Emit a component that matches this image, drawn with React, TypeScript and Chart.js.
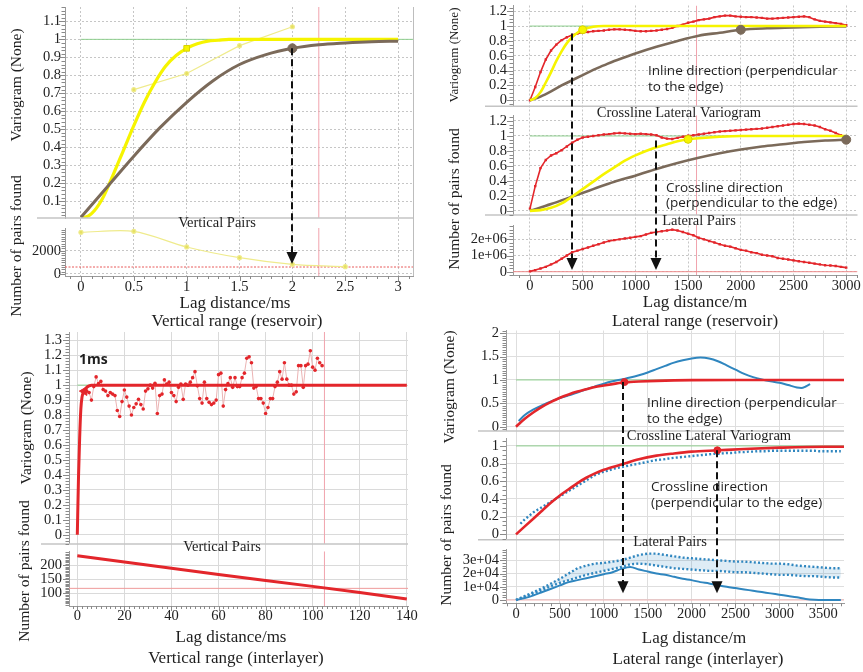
import React, { useEffect, useRef } from 'react';
import { Chart, registerables } from 'chart.js';

Chart.register(...registerables);

const SERIF = '"Liberation Serif", "Times New Roman", serif';
const SANS = '"Open Sans", "Noto Sans", sans-serif';

// ---------------- colours ----------------
const YEL = '#f6f400';
const YEL_THIN = '#efeb8c';
const BRN = '#7b6a5a';
const RED = '#e3262b';
const RED_LIGHT = '#ebb3b3';
const BLUE = '#2f86bf';
const GREEN = '#8fcf8f';
const PINK = '#f1a3ad';

// ---------------- Panel 1: vertical range (reservoir) ----------------
const P1_MODEL_YELLOW_X = [0, 0.1, 0.2, 0.3, 0.4, 0.5, 0.6, 0.7, 0.8, 0.9, 1.0, 1.1, 1.2, 1.3, 1.4, 1.6, 2.0, 2.5, 3.0];
const P1_MODEL_YELLOW_Y = [0, 0.03, 0.11, 0.24, 0.38, 0.52, 0.65, 0.76, 0.85, 0.91, 0.95, 0.975, 0.99, 0.995, 1, 1, 1, 1, 1];
const P1_MODEL_BROWN_X = [0, 0.25, 0.5, 0.75, 1, 1.25, 1.5, 1.75, 2, 2.25, 2.5, 2.75, 3];
const P1_MODEL_BROWN_Y = [0.01, 0.18, 0.35, 0.51, 0.65, 0.77, 0.86, 0.915, 0.95, 0.97, 0.98, 0.987, 0.99];
const P1_EXP_X = [0.5, 1, 1.5, 2];
const P1_EXP_Y = [0.72, 0.81, 0.965, 1.07];
const P1_PAIRS_X = [0, 0.5, 1, 1.5, 2, 2.5];
const P1_PAIRS_Y = [3580, 3660, 2320, 1400, 830, 630];
const P1_RANGE_YELLOW = { x: 1, y: 0.95 };
const P1_RANGE_BROWN = { x: 2, y: 0.95 };
const P1_SILL = 1;
const P1_PINK_X = 2.25;
const P1_PAIRS_REF = 600;
const P1_ARROW = { x: 2, from: 0.95, to: 850 };

// ---------------- Panel 2: lateral range (reservoir) ----------------
const P2_LAGS = [0, 50, 100, 150, 200, 250, 300, 350, 400, 450, 500, 550, 600, 650, 700, 750, 800, 850, 900, 950, 1000,
  1050, 1100, 1150, 1200, 1250, 1300, 1350, 1400, 1450, 1500, 1550, 1600, 1650, 1700, 1750, 1800, 1850, 1900, 1950, 2000,
  2050, 2100, 2150, 2200, 2250, 2300, 2350, 2400, 2450, 2500, 2550, 2600, 2650, 2700, 2750, 2800, 2850, 2900, 2950, 3000];
const P2_INLINE_EXP = [0, 0.18, 0.38, 0.55, 0.67, 0.75, 0.81, 0.85, 0.88, 0.9, 0.91, 0.92, 0.93, 0.935, 0.94, 0.95, 0.955,
  0.955, 0.95, 0.945, 0.935, 0.93, 0.93, 0.935, 0.94, 0.95, 0.96, 0.975, 1.0, 1.02, 1.045, 1.06, 1.08, 1.09, 1.1, 1.12,
  1.13, 1.14, 1.14, 1.13, 1.125, 1.12, 1.12, 1.115, 1.11, 1.1, 1.1, 1.105, 1.11, 1.115, 1.12, 1.125, 1.13, 1.12, 1.09,
  1.07, 1.06, 1.05, 1.04, 1.03, 1.01];
const P2_CROSS_EXP = [0.03, 0.33, 0.57, 0.68, 0.74, 0.77, 0.81, 0.86, 0.91, 0.95, 0.98, 0.99, 1.0, 1.01, 1.02, 1.025,
  1.035, 1.04, 1.035, 1.03, 1.025, 1.03, 1.025, 1.02, 1.01, 0.98, 0.965, 0.96, 0.975, 0.99, 1.005, 1.01, 1.02, 1.03, 1.04,
  1.05, 1.06, 1.065, 1.07, 1.075, 1.08, 1.085, 1.09, 1.095, 1.1, 1.11, 1.12, 1.13, 1.14, 1.15, 1.16, 1.165, 1.16, 1.15,
  1.14, 1.12, 1.09, 1.07, 1.04, 1.01, 0.98];
// lateral pairs, in millions (axis labels 1e+06)
const P2_PAIRS_M = [0.02, 0.1, 0.2, 0.3, 0.45, 0.6, 0.8, 1.0, 1.2, 1.3, 1.4, 1.5, 1.6, 1.7, 1.8, 1.9, 1.95, 2.0, 2.05,
  2.1, 2.15, 2.2, 2.3, 2.4, 2.45, 2.5, 2.55, 2.6, 2.55, 2.45, 2.35, 2.25, 2.1, 2.0, 1.9, 1.8, 1.7, 1.6, 1.55, 1.45, 1.35,
  1.3, 1.2, 1.15, 1.05, 1.0, 0.95, 0.85, 0.8, 0.75, 0.7, 0.65, 0.6, 0.55, 0.5, 0.45, 0.4, 0.38, 0.35, 0.3, 0.25];
const P2_INLINE_YELLOW_X = [0, 50, 100, 150, 200, 250, 300, 350, 400, 450, 500, 600, 700, 3000];
const P2_INLINE_YELLOW_Y = [0, 0.03, 0.11, 0.24, 0.38, 0.53, 0.66, 0.77, 0.85, 0.91, 0.95, 0.99, 1, 1];
const P2_INLINE_BROWN_X = [0, 100, 200, 300, 400, 500, 600, 700, 800, 900, 1000, 1200, 1400, 1600, 1800, 2000, 2250, 2500, 2750, 3000];
const P2_INLINE_BROWN_Y = [0, 0.05, 0.12, 0.2, 0.27, 0.34, 0.41, 0.47, 0.53, 0.58, 0.63, 0.72, 0.8, 0.87, 0.91, 0.95, 0.97, 0.98, 0.99, 0.995];
const P2_CROSS_YELLOW_X = [0, 100, 200, 300, 400, 500, 600, 700, 800, 900, 1000, 1100, 1200, 1300, 1400, 1500, 1600, 1800, 2000, 3000];
const P2_CROSS_YELLOW_Y = [0, 0.01, 0.04, 0.1, 0.19, 0.29, 0.39, 0.49, 0.58, 0.67, 0.74, 0.8, 0.85, 0.89, 0.93, 0.955, 0.97, 0.99, 1, 1];
const P2_CROSS_BROWN_X = [0, 200, 400, 600, 800, 1000, 1200, 1400, 1600, 1800, 2000, 2200, 2400, 2600, 2800, 3000];
const P2_CROSS_BROWN_Y = [0, 0.09, 0.19, 0.29, 0.39, 0.47, 0.56, 0.64, 0.71, 0.77, 0.82, 0.86, 0.89, 0.92, 0.94, 0.95];
const P2_MARKS = { inYel: { x: 500, y: 0.95 }, inBrn: { x: 2000, y: 0.95 }, crYel: { x: 1500, y: 0.955 }, crBrn: { x: 3000, y: 0.95 } };
const P2_SILL = 1;
const P2_PINK_X = 1580;
const P2_ARROWS = [{ x: 400, fromAxis: 'y0', from: 0.9, to: 0.1 }, { x: 1200, fromAxis: 'y1', from: 0.94, to: 0.1 }];

// ---------------- Panel 3: vertical range (interlayer) ----------------
const P3_MODEL_X = [0, 0.5, 1, 1.5, 2, 2.5, 3, 4, 5, 6, 140];
const P3_MODEL_Y = [0, 0.38, 0.65, 0.84, 0.92, 0.95, 0.965, 0.985, 0.995, 1, 1];
const P3_EXP_LAGS = [3, 4, 5, 6, 7, 8, 9, 10, 11, 12, 13, 14, 15, 16, 17, 18, 19, 20, 21, 22, 23, 24, 25, 26, 27, 28, 29,
  30, 31, 32, 33, 34, 35, 36, 37, 38, 39, 40, 41, 42, 43, 44, 45, 46, 47, 48, 49, 50, 51, 52, 53, 54, 55, 56, 57, 58, 59,
  60, 61, 62, 63, 64, 65, 66, 67, 68, 69, 70, 71, 72, 73, 74, 75, 76, 77, 78, 79, 80, 81, 82, 83, 84, 85, 86, 87, 88, 89,
  90, 91, 92, 93, 94, 95, 96, 97, 98, 99, 100, 101, 102, 103, 104];
const P3_EXP = [0.96, 0.96, 0.95, 0.9, 0.99, 1.055, 1.01, 1.025, 0.97, 0.96, 0.93, 0.95, 0.94, 0.93, 0.83, 0.79, 0.89,
  0.967, 0.92, 0.86, 0.8, 0.85, 0.875, 0.905, 0.87, 0.84, 0.96, 0.975, 1.0, 0.98, 1.013, 0.81, 0.93, 0.94, 1.035, 1.007,
  1.02, 0.95, 0.93, 0.89, 0.985, 1.007, 0.905, 1.007, 1.0, 1.02, 1.05, 1.09, 0.995, 0.91, 0.88, 1.02, 0.91, 0.885, 0.87,
  0.88, 0.9, 1.07, 1.08, 0.86, 0.97, 1.01, 1.05, 0.985, 1.05, 0.99, 0.99, 1.05, 1.08, 1.18, 1.19, 1.15, 0.98, 0.99, 0.91,
  0.91, 0.88, 0.81, 0.85, 0.91, 0.91, 0.99, 1.02, 1.09, 1.04, 1.15, 1.04, 1.0, 1.0, 0.94, 0.955, 1.13, 1.13, 0.985, 1.13,
  1.14, 1.23, 1.12, 1.1, 1.18, 1.15, 1.13];
const P3_PAIRS_X = [0, 20, 40, 60, 80, 100, 120, 140];
const P3_PAIRS_Y = [233, 211, 189, 167, 146, 125, 103, 80];
const P3_MARK = { x: 3, y: 0.96 };
const P3_SILL = 1;
const P3_PINK_X = 105;
const P3_PAIRS_REF = 118;

// ---------------- Panel 4: lateral range (interlayer) ----------------
const P4_INLINE_EXP_X = [30, 100, 200, 300, 400, 500, 600, 700, 800, 900, 1000, 1100, 1200, 1300, 1400, 1500, 1600, 1700,
  1800, 1900, 2000, 2100, 2200, 2300, 2400, 2500, 2600, 2700, 2800, 2900, 3000, 3100, 3200, 3250, 3300, 3350];
const P4_INLINE_EXP_Y = [0.12, 0.25, 0.37, 0.46, 0.54, 0.61, 0.67, 0.73, 0.8, 0.86, 0.92, 0.97, 1.01, 1.05, 1.1, 1.16,
  1.23, 1.3, 1.37, 1.42, 1.46, 1.48, 1.46, 1.4, 1.31, 1.22, 1.13, 1.06, 1.01, 0.97, 0.94, 0.89, 0.84, 0.83, 0.86, 0.91];
const P4_INLINE_MODEL_X = [0, 100, 200, 300, 400, 500, 600, 700, 800, 900, 1000, 1100, 1200, 1300, 1400, 1600, 1800, 2000, 2500, 3750];
const P4_INLINE_MODEL_Y = [0, 0.17, 0.31, 0.43, 0.53, 0.62, 0.69, 0.75, 0.8, 0.85, 0.88, 0.91, 0.94, 0.955, 0.965, 0.98, 0.99, 0.995, 1, 1];
const P4_CROSS_MODEL_X = [0, 100, 200, 300, 400, 500, 600, 700, 800, 900, 1000, 1200, 1400, 1600, 1800, 2000, 2300, 2600, 3000, 3500, 3750];
const P4_CROSS_MODEL_Y = [0, 0.09, 0.18, 0.27, 0.36, 0.44, 0.51, 0.58, 0.64, 0.69, 0.73, 0.79, 0.85, 0.89, 0.915, 0.935, 0.95, 0.965, 0.98, 0.99, 0.99];
const P4_CROSS_EXP_X = [50, 100, 150, 200, 250, 300, 350, 400, 450, 500, 550, 600, 650, 700, 750, 800, 850, 900, 950,
  1000, 1050, 1100, 1150, 1200, 1250, 1300, 1350, 1400, 1450, 1500, 1550, 1600, 1650, 1700, 1750, 1800, 1850, 1900, 1950,
  2000, 2050, 2100, 2150, 2200, 2250, 2300, 2350, 2400, 2450, 2500, 2550, 2600, 2650, 2700, 2750, 2800, 2850, 2900, 2950,
  3000, 3050, 3100, 3150, 3200, 3250, 3300, 3350, 3400, 3450, 3500, 3550, 3600, 3650, 3700];
const P4_CROSS_EXP_Y = [0.12, 0.17, 0.21, 0.25, 0.28, 0.31, 0.34, 0.37, 0.4, 0.43, 0.46, 0.49, 0.52, 0.55, 0.58, 0.61,
  0.64, 0.67, 0.69, 0.71, 0.72, 0.74, 0.75, 0.76, 0.77, 0.78, 0.79, 0.8, 0.81, 0.82, 0.83, 0.84, 0.845, 0.85, 0.86, 0.865,
  0.87, 0.875, 0.88, 0.885, 0.89, 0.895, 0.9, 0.905, 0.91, 0.91, 0.915, 0.92, 0.92, 0.925, 0.93, 0.93, 0.935, 0.935, 0.94,
  0.94, 0.94, 0.945, 0.945, 0.945, 0.945, 0.945, 0.945, 0.945, 0.945, 0.945, 0.945, 0.945, 0.94, 0.94, 0.94, 0.94, 0.94, 0.94];
const P4_PAIRS_X = [0, 100, 200, 300, 400, 500, 600, 700, 800, 900, 1000, 1100, 1200, 1300, 1400, 1500, 1600, 1700, 1800,
  1900, 2000, 2100, 2200, 2300, 2400, 2500, 2600, 2700, 2800, 2900, 3000, 3100, 3200, 3300, 3400, 3500, 3600, 3700];
// pairs in units of 1e4 (axis labels 1e+04)
const P4_PAIRS_SOLID = [0, 0.15, 0.35, 0.6, 0.85, 1.1, 1.35, 1.5, 1.65, 1.8, 1.95, 2.1, 2.35, 2.5, 2.3, 2.15, 2.0, 1.9,
  1.75, 1.6, 1.5, 1.35, 1.25, 1.12, 1.0, 0.9, 0.8, 0.7, 0.6, 0.5, 0.4, 0.3, 0.2, 0.08, 0.02, 0, 0, 0];
const P4_PAIRS_UPPER = [0, 0.3, 0.6, 0.9, 1.25, 1.6, 2.0, 2.4, 2.6, 2.75, 2.8, 2.9, 3.0, 3.2, 3.4, 3.5, 3.5, 3.4, 3.3,
  3.2, 3.15, 3.1, 3.05, 3.0, 2.95, 2.9, 2.9, 2.85, 2.8, 2.75, 2.75, 2.7, 2.6, 2.55, 2.5, 2.45, 2.4, 2.4];
const P4_PAIRS_LOWER = [0, 0.25, 0.5, 0.75, 1.05, 1.3, 1.5, 1.7, 1.9, 2.05, 2.2, 2.35, 2.5, 2.7, 2.75, 2.7, 2.6, 2.5, 2.4,
  2.35, 2.3, 2.25, 2.2, 2.2, 2.15, 2.1, 2.1, 2.05, 2.0, 1.95, 1.9, 1.9, 1.85, 1.8, 1.8, 1.75, 1.7, 1.7];
const P4_MARKS = { inline: { x: 1235, y: 0.955 }, cross: { x: 2293, y: 0.95 } };
const P4_SILL = 1;
const P4_ARROWS = [{ x: 1220, fromAxis: 'y0', from: 0.955, to: 0.5 }, { x: 2293, fromAxis: 'y1', from: 0.95, to: 0.5 }];

// ---------------- helpers ----------------
type Pt = { x: number; y: number };
const pts = (xs: number[], ys: number[]): Pt[] => xs.map((x, i) => ({ x, y: ys[i] }));

function curve(data: Pt[], axis: string, color: string, width: number, opts: any = {}) {
  return {
    data, yAxisID: axis, xAxisID: 'x', showLine: true, borderColor: color, backgroundColor: color,
    borderWidth: width, pointRadius: 0, pointHoverRadius: 0, tension: 0, fill: false, ...opts,
  };
}
function marker(p: Pt, axis: string, color: string, radius: number, opts: any = {}) {
  return {
    data: [p], yAxisID: axis, xAxisID: 'x', showLine: false, pointRadius: radius, pointHoverRadius: radius,
    backgroundColor: color, borderColor: color, borderWidth: 1, ...opts,
  };
}
const smooth = { cubicInterpolationMode: 'monotone' };

type YSpec = { id: string; top: number; bottom: number; min: number; max: number; step: number; minor: number; fmt?: (v: number) => string };
type TextSpec = { t: string; x: number; y: number; font: string; rot?: boolean; align?: CanvasTextAlign };
type ArrowSpec = { x: number; fromAxis: string; from: number; toAxis: string; to: number };
type PanelSpec = {
  left: number; top: number; width: number; height: number;
  area: { left: number; right: number; top: number; bottom: number };
  x: { min: number; max: number; step: number; minor: number; pad: number };
  ys: YSpec[];
  yPad: number;
  grid: { color: string; dash: number[] };
  datasets: any[];
  texts: TextSpec[];
  arrows: ArrowSpec[];
  rightBorder?: boolean;
  sepExtend: number;
};

const num = (v: number) => String(Math.round(v * 1000) / 1000);
const TICK_FONT = { family: SERIF, size: 14.5 };
const F_TITLE = `17px ${SERIF}`;
const F_YTITLE = `15.5px ${SERIF}`;
const F_SUB = `14.5px ${SERIF}`;
const F_NOTE = `13.5px ${SANS}`;

// tick values at multiples of the step inside the axis range
const stepTicks = (step: number) => (s: any) => {
  const out: { value: number }[] = [];
  const k0 = Math.ceil(s.min / step - 1e-9);
  const k1 = Math.floor(s.max / step + 1e-9);
  for (let k = k0; k <= k1; k++) out.push({ value: Math.round(k * step * 1e6) / 1e6 });
  s.ticks = out;
};

function buildScales(p: PanelSpec) {
  const scales: any = {
    x: {
      type: 'linear', position: 'bottom', min: p.x.min, max: p.x.max,
      afterBuildTicks: stepTicks(p.x.step),
      ticks: {
        autoSkip: false, maxRotation: 0, minRotation: 0,
        padding: p.x.pad, color: '#222', font: TICK_FONT, callback: (v: number) => num(v),
      },
      grid: { color: p.grid.color, drawTicks: false, lineWidth: 1 },
      border: { display: true, color: '#9a9a9a', width: 1, dash: p.grid.dash },
      afterFit: (s: any) => { s.height = p.height - p.area.bottom; s.paddingLeft = 0; s.paddingRight = 0; },
    },
  };
  let w = 2 * p.ys.length + 2;
  p.ys.forEach((y, i) => {
    scales[y.id] = {
      type: 'linear', position: 'left', stack: 'v', stackWeight: y.bottom - y.top, weight: w--,
      min: y.min, max: y.max,
      afterBuildTicks: stepTicks(y.step),
      ticks: {
        autoSkip: false, padding: p.yPad, color: '#222', font: TICK_FONT,
        callback: (v: number) => (y.fmt ? y.fmt(v) : num(v)),
      },
      grid: { color: p.grid.color, drawTicks: false, lineWidth: 1 },
      border: { display: true, color: '#9a9a9a', width: 1, dash: p.grid.dash },
      afterFit: (s: any) => { s.width = p.area.left; s.paddingTop = 0; s.paddingBottom = 0; },
    };
    if (i < p.ys.length - 1) {
      scales['gap' + i] = {
        type: 'linear', position: 'left', stack: 'v', stackWeight: p.ys[i + 1].top - y.bottom, weight: w--,
        display: false,
        afterFit: (s: any) => { s.width = p.area.left; s.paddingTop = 0; s.paddingBottom = 0; },
      };
    }
  });
  return scales;
}

function decoPlugin(p: PanelSpec) {
  return {
    id: 'deco',
    afterDraw(chart: any) {
      const ctx: CanvasRenderingContext2D = chart.ctx;
      const ca = chart.chartArea;
      ctx.save();
      // separators between stacked plots
      ctx.strokeStyle = '#c4c4c4';
      ctx.lineWidth = 1.5;
      p.ys.forEach((y, i) => {
        if (i === p.ys.length - 1) return;
        const s = chart.scales[y.id];
        ctx.beginPath();
        ctx.moveTo(ca.left - p.sepExtend, s.bottom);
        ctx.lineTo(ca.right, s.bottom);
        ctx.stroke();
      });
      if (p.rightBorder) {
        ctx.strokeStyle = '#bdbdbd';
        ctx.lineWidth = 1;
        ctx.beginPath();
        ctx.moveTo(ca.right + 0.5, ca.top);
        ctx.lineTo(ca.right + 0.5, ca.bottom);
        ctx.stroke();
      }
      // ruler ticks
      ctx.strokeStyle = '#8a8a8a';
      ctx.lineWidth = 1;
      ctx.beginPath();
      for (const y of p.ys) {
        const s = chart.scales[y.id];
        const ms = y.step / y.minor;
        for (let k = Math.ceil(s.min / ms - 1e-9); k * ms <= s.max + 1e-9; k++) {
          const py = Math.round(s.getPixelForValue(k * ms)) + 0.5;
          const len = k % y.minor === 0 ? 6 : 3.5;
          ctx.moveTo(ca.left - len, py);
          ctx.lineTo(ca.left, py);
        }
      }
      const xs = chart.scales.x;
      const mx = p.x.step / p.x.minor;
      for (let k = Math.ceil(xs.min / mx - 1e-9); k * mx <= xs.max + 1e-9; k++) {
        const px = Math.round(xs.getPixelForValue(k * mx)) + 0.5;
        const len = k % p.x.minor === 0 ? 5 : 3;
        ctx.moveTo(px, ca.bottom);
        ctx.lineTo(px, ca.bottom + len);
      }
      ctx.stroke();
      // texts
      ctx.fillStyle = '#1e1e1e';
      ctx.textBaseline = 'middle';
      for (const t of p.texts) {
        const lx = t.x - p.left;
        const ly = t.y - p.top;
        ctx.font = t.font;
        ctx.textAlign = t.align || 'center';
        if (t.rot) {
          ctx.save();
          ctx.translate(lx, ly);
          ctx.rotate(-Math.PI / 2);
          ctx.fillText(t.t, 0, 0);
          ctx.restore();
        } else {
          ctx.fillText(t.t, lx, ly);
        }
      }
      // arrows
      for (const a of p.arrows) {
        const x = Math.round(xs.getPixelForValue(a.x));
        const y1 = chart.scales[a.fromAxis].getPixelForValue(a.from);
        const y2 = chart.scales[a.toAxis].getPixelForValue(a.to);
        ctx.strokeStyle = '#111';
        ctx.fillStyle = '#111';
        ctx.lineWidth = 2;
        ctx.setLineDash([7, 4]);
        ctx.beginPath();
        ctx.moveTo(x, y1);
        ctx.lineTo(x, y2 - 10);
        ctx.stroke();
        ctx.setLineDash([]);
        ctx.beginPath();
        ctx.moveTo(x - 5.5, y2 - 12);
        ctx.lineTo(x + 5.5, y2 - 12);
        ctx.lineTo(x, y2);
        ctx.closePath();
        ctx.fill();
      }
      ctx.restore();
    },
  };
}

// ---------------- panel specs ----------------
function panel1(): PanelSpec {
  const xMin = -0.151, xMax = 3.141;
  const ys: YSpec[] = [
    { id: 'y0', top: 7, bottom: 218, min: 0.006, max: 1.18, step: 0.1, minor: 5 },
    { id: 'y1', top: 228, bottom: 276, min: -172, max: 3948, step: 2000, minor: 10 },
  ];
  return {
    left: 0, top: 0, width: 430, height: 336,
    area: { left: 65, right: 413, top: 7, bottom: 276 },
    x: { min: xMin, max: xMax, step: 0.5, minor: 5, pad: 2.3 },
    ys, yPad: 4,
    grid: { color: '#c6c6c6', dash: [2, 2] },
    rightBorder: true, sepExtend: 28,
    datasets: [
      marker(P1_RANGE_BROWN, 'y0', BRN, 4.5),
      marker(P1_RANGE_YELLOW, 'y0', YEL, 4, { pointStyle: 'rect', borderColor: '#d8d400' }),
      curve(pts(P1_MODEL_BROWN_X, P1_MODEL_BROWN_Y), 'y0', BRN, 3, smooth),
      curve(pts(P1_MODEL_YELLOW_X, P1_MODEL_YELLOW_Y), 'y0', YEL, 3.2, smooth),
      curve(pts(P1_EXP_X, P1_EXP_Y), 'y0', YEL_THIN, 1.2, { pointRadius: 2, backgroundColor: '#e6e060', borderColor: YEL_THIN }),
      curve(pts(P1_PAIRS_X, P1_PAIRS_Y), 'y1', YEL_THIN, 1.2, { tension: 0.3, pointRadius: 2, backgroundColor: '#e6e060' }),
      curve([{ x: xMin, y: P1_PAIRS_REF }, { x: xMax, y: P1_PAIRS_REF }], 'y1', '#e85a5a', 1, { borderDash: [2, 1.5] }),
      curve([{ x: 0, y: P1_SILL }, { x: xMax, y: P1_SILL }], 'y0', GREEN, 1),
      curve([{ x: P1_PINK_X, y: ys[0].min }, { x: P1_PINK_X, y: ys[0].max }], 'y0', PINK, 1),
      curve([{ x: P1_PINK_X, y: ys[1].min }, { x: P1_PINK_X, y: ys[1].max }], 'y1', PINK, 1),
    ],
    texts: [
      { t: 'Variogram (None)', x: 17, y: 85, font: F_YTITLE, rot: true },
      { t: 'Number of pairs found', x: 17, y: 246, font: F_YTITLE, rot: true },
      { t: 'Vertical Pairs', x: 217, y: 223, font: F_SUB },
      { t: 'Lag distance/ms', x: 235, y: 304, font: F_TITLE },
      { t: 'Vertical range (reservoir)', x: 237, y: 322, font: F_TITLE },
    ],
    arrows: [{ x: P1_ARROW.x, fromAxis: 'y0', from: P1_ARROW.from, toAxis: 'y1', to: P1_ARROW.to }],
  };
}

function panel2(): PanelSpec {
  const xMin = -161, xMax = 3107;
  const ys: YSpec[] = [
    { id: 'y0', top: 5, bottom: 106, min: -0.081, max: 1.277, step: 0.2, minor: 4 },
    { id: 'y1', top: 115, bottom: 215, min: -0.057, max: 1.276, step: 0.2, minor: 4 },
    { id: 'y2', top: 225, bottom: 275, min: -0.204, max: 2.88, step: 1, minor: 5, fmt: (v) => (v === 0 ? '0' : `${num(v)}e+06`) },
  ];
  const expOpts = { pointRadius: 1.7, pointStyle: 'rect', pointBorderWidth: 0 };
  return {
    left: 430, top: 0, width: 433, height: 336,
    area: { left: 83, right: 428, top: 5, bottom: 275 },
    x: { min: xMin, max: xMax, step: 500, minor: 5, pad: 2 },
    ys, yPad: 6,
    grid: { color: '#c6c6c6', dash: [2, 2] },
    sepExtend: 28,
    datasets: [
      marker(P2_MARKS.inBrn, 'y0', BRN, 4.5),
      marker(P2_MARKS.crBrn, 'y1', BRN, 4.5),
      marker(P2_MARKS.inYel, 'y0', YEL, 4, { borderColor: '#d8d400' }),
      marker(P2_MARKS.crYel, 'y1', YEL, 4, { borderColor: '#d8d400' }),
      curve(pts(P2_INLINE_YELLOW_X, P2_INLINE_YELLOW_Y), 'y0', YEL, 2.6, smooth),
      curve(pts(P2_CROSS_YELLOW_X, P2_CROSS_YELLOW_Y), 'y1', YEL, 2.6, smooth),
      curve(pts(P2_INLINE_BROWN_X, P2_INLINE_BROWN_Y), 'y0', BRN, 2.6, smooth),
      curve(pts(P2_CROSS_BROWN_X, P2_CROSS_BROWN_Y), 'y1', BRN, 2.6, smooth),
      curve(pts(P2_LAGS, P2_INLINE_EXP), 'y0', RED, 1.6, expOpts),
      curve(pts(P2_LAGS, P2_CROSS_EXP), 'y1', RED, 1.6, expOpts),
      curve(pts(P2_LAGS, P2_PAIRS_M), 'y2', RED, 1.6, expOpts),
      curve([{ x: 0, y: P2_SILL }, { x: 3000, y: P2_SILL }], 'y0', GREEN, 1),
      curve([{ x: 0, y: P2_SILL }, { x: 3000, y: P2_SILL }], 'y1', GREEN, 1),
      curve([{ x: xMin, y: 0 }, { x: xMax, y: 0 }], 'y2', '#ee8a8a', 1),
      curve([{ x: P2_PINK_X, y: ys[0].min }, { x: P2_PINK_X, y: ys[0].max }], 'y0', PINK, 1),
      curve([{ x: P2_PINK_X, y: ys[1].min }, { x: P2_PINK_X, y: ys[1].max }], 'y1', PINK, 1),
      curve([{ x: P2_PINK_X, y: ys[2].min }, { x: P2_PINK_X, y: ys[2].max }], 'y2', PINK, 1),
    ],
    texts: [
      { t: 'Variogram (None)', x: 455, y: 55, font: `13px ${SERIF}`, rot: true },
      { t: 'Number of pairs found', x: 455, y: 199, font: F_YTITLE, rot: true },
      { t: 'Inline direction (perpendicular', x: 648, y: 71, font: F_NOTE, align: 'left' },
      { t: 'to the edge)', x: 648, y: 87, font: F_NOTE, align: 'left' },
      { t: 'Crossline Lateral Variogram', x: 679, y: 113, font: F_SUB },
      { t: 'Crossline direction', x: 666, y: 188, font: F_NOTE, align: 'left' },
      { t: '(perpendicular to the edge)', x: 666, y: 203, font: F_NOTE, align: 'left' },
      { t: 'Lateral Pairs', x: 699, y: 221, font: F_SUB },
      { t: 'Lag distance/m', x: 695, y: 303, font: F_TITLE },
      { t: 'Lateral range (reservoir)', x: 695, y: 322, font: F_TITLE },
    ],
    arrows: P2_ARROWS.map((a) => ({ x: a.x, fromAxis: a.fromAxis, from: a.from, toAxis: 'y2', to: a.to })),
  };
}

function panel3(): PanelSpec {
  const xMin = -3.53, xMax = 140.5;
  const ys: YSpec[] = [
    { id: 'y0', top: 3, bottom: 217.3, min: -0.0615, max: 1.355, step: 0.1, minor: 5 },
    { id: 'y1', top: 224.7, bottom: 280, min: 55.6, max: 249, step: 50, minor: 10 },
  ];
  return {
    left: 0, top: 326, width: 430, height: 346,
    area: { left: 69, right: 408, top: 3, bottom: 280 },
    x: { min: xMin, max: xMax, step: 20, minor: 10, pad: 1.3 },
    ys, yPad: 7,
    grid: { color: '#dadada', dash: [] },
    sepExtend: 28,
    datasets: [
      marker(P3_MARK, 'y0', RED, 5, { pointStyle: 'triangle', rotation: -90 }),
      curve(pts(P3_MODEL_X, P3_MODEL_Y), 'y0', RED, 3, smooth),
      curve(pts(P3_EXP_LAGS, P3_EXP), 'y0', RED_LIGHT, 1, { pointRadius: 1.8, backgroundColor: RED, pointBorderWidth: 0 }),
      curve(pts(P3_PAIRS_X, P3_PAIRS_Y), 'y1', RED, 3),
      curve([{ x: 0, y: P3_SILL }, { x: 8, y: P3_SILL }], 'y0', GREEN, 1),
      curve([{ x: xMin, y: P3_PAIRS_REF }, { x: xMax, y: P3_PAIRS_REF }], 'y1', '#ef9a9a', 1),
      curve([{ x: P3_PINK_X, y: ys[0].min }, { x: P3_PINK_X, y: ys[0].max }], 'y0', PINK, 1),
      curve([{ x: P3_PINK_X, y: ys[1].min }, { x: P3_PINK_X, y: ys[1].max }], 'y1', PINK, 1),
    ],
    texts: [
      { t: 'Variogram (None)', x: 27, y: 428, font: F_YTITLE, rot: true },
      { t: 'Number of pairs found', x: 25, y: 571, font: F_YTITLE, rot: true },
      { t: '1ms', x: 79, y: 360, font: `bold 14px ${SANS}`, align: 'left' },
      { t: 'Vertical Pairs', x: 222, y: 547, font: F_SUB },
      { t: 'Lag distance/ms', x: 231, y: 638, font: F_TITLE },
      { t: 'Vertical range (interlayer)', x: 236, y: 659, font: F_TITLE },
    ],
    arrows: [],
  };
}

function panel4(): PanelSpec {
  const xMin = -114, xMax = 3736;
  const ys: YSpec[] = [
    { id: 'y0', top: 3, bottom: 104, min: -0.091, max: 2.057, step: 0.5, minor: 10 },
    { id: 'y1', top: 111.3, bottom: 213.3, min: -0.06, max: 1.087, step: 0.2, minor: 4 },
    { id: 'y2', top: 223, bottom: 277.3, min: -0.25, max: 3.83, step: 1, minor: 5, fmt: (v) => (v === 0 ? '0' : `${num(v)}e+04`) },
  ];
  return {
    left: 430, top: 326, width: 433, height: 346,
    area: { left: 76, right: 414, top: 3, bottom: 277.3 },
    x: { min: xMin, max: xMax, step: 500, minor: 5, pad: 2 },
    ys, yPad: 7,
    grid: { color: '#dedede', dash: [] },
    sepExtend: 28,
    datasets: [
      marker(P4_MARKS.inline, 'y0', RED, 3.5),
      marker(P4_MARKS.cross, 'y1', RED, 3.5),
      curve(pts(P4_INLINE_MODEL_X, P4_INLINE_MODEL_Y), 'y0', RED, 2.6, smooth),
      curve(pts(P4_CROSS_MODEL_X, P4_CROSS_MODEL_Y), 'y1', RED, 2.6, smooth),
      curve(pts(P4_INLINE_EXP_X, P4_INLINE_EXP_Y), 'y0', BLUE, 2, smooth),
      curve(pts(P4_CROSS_EXP_X, P4_CROSS_EXP_Y), 'y1', BLUE, 2.4, { borderDash: [2, 2.2] }),
      curve(pts(P4_PAIRS_X, P4_PAIRS_SOLID), 'y2', BLUE, 2, smooth),
      curve(pts(P4_PAIRS_X, P4_PAIRS_UPPER), 'y2', BLUE, 2.4, { borderDash: [2, 2.2], fill: '+1', backgroundColor: 'rgba(47,134,191,0.16)' }),
      curve(pts(P4_PAIRS_X, P4_PAIRS_LOWER), 'y2', BLUE, 2.4, { borderDash: [2, 2.2] }),
      curve([{ x: 0, y: P4_SILL }, { x: xMax, y: P4_SILL }], 'y0', GREEN, 1),
      curve([{ x: 0, y: P4_SILL }, { x: xMax, y: P4_SILL }], 'y1', GREEN, 1),
      curve([{ x: xMin, y: 0 }, { x: xMax, y: 0 }], 'y2', '#f0b4b4', 1),
    ],
    texts: [
      { t: 'Variogram (None)', x: 450, y: 387, font: F_YTITLE, rot: true },
      { t: 'Number of pairs found', x: 447, y: 535, font: F_YTITLE, rot: true },
      { t: 'Inline direction (perpendicular', x: 647, y: 403, font: F_NOTE, align: 'left' },
      { t: 'to the edge)', x: 647, y: 419, font: F_NOTE, align: 'left' },
      { t: 'Crossline Lateral Variogram', x: 709, y: 436, font: F_SUB },
      { t: 'Crossline direction', x: 651, y: 487, font: F_NOTE, align: 'left' },
      { t: '(perpendicular to the edge)', x: 651, y: 503, font: F_NOTE, align: 'left' },
      { t: 'Lateral Pairs', x: 670, y: 542, font: F_SUB },
      { t: 'Lag distance/m', x: 694, y: 639, font: F_TITLE },
      { t: 'Lateral range (interlayer)', x: 698, y: 660, font: F_TITLE },
    ],
    arrows: P4_ARROWS.map((a) => ({ x: a.x, fromAxis: a.fromAxis, from: a.from, toAxis: 'y2', to: a.to })),
  };
}

const PANELS: PanelSpec[] = [panel1(), panel2(), panel3(), panel4()];

function buildConfig(p: PanelSpec): any {
  return {
    type: 'scatter',
    data: { datasets: p.datasets },
    options: {
      responsive: false,
      maintainAspectRatio: false,
      animation: false,
      devicePixelRatio: 1,
      events: [],
      layout: { padding: { left: 0, top: p.area.top, right: p.width - p.area.right, bottom: 0 } },
      plugins: { legend: { display: false }, tooltip: { enabled: false }, title: { display: false } },
      scales: buildScales(p),
    },
    plugins: [decoPlugin(p)],
  };
}

function Panel({ spec }: { spec: PanelSpec }) {
  const ref = useRef<HTMLCanvasElement | null>(null);
  useEffect(() => {
    if (!ref.current) return;
    const chart = new Chart(ref.current, buildConfig(spec));
    return () => chart.destroy();
  }, [spec]);
  return (
    <canvas
      ref={ref}
      width={spec.width}
      height={spec.height}
      style={{ position: 'absolute', left: spec.left, top: spec.top, width: spec.width, height: spec.height }}
    />
  );
}

export default function App() {
  return (
    <div style={{ position: 'absolute', left: 0, top: 0, width: 863, height: 672, background: '#ffffff', overflow: 'hidden' }}>
      {PANELS.map((p, i) => (
        <Panel key={i} spec={p} />
      ))}
    </div>
  );
}
